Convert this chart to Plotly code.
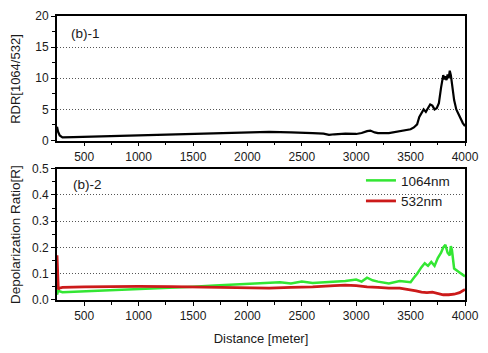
import plotly.graph_objects as go
from plotly.subplots import make_subplots

# ---- data ----
rdr_x = [250, 260, 275, 300, 400, 500, 700, 900, 1100, 1300, 1500, 1700, 1900, 2000, 2200, 2400,
         2500, 2600, 2700, 2750, 2800, 2900, 3000, 3050, 3100, 3130, 3170, 3200, 3300, 3400, 3450,
         3500, 3530, 3560, 3580, 3600, 3620, 3640, 3660, 3680, 3700, 3720, 3740, 3760, 3780, 3800,
         3810, 3820, 3830, 3840, 3850, 3860, 3870, 3880, 3900, 3920, 3940, 3960, 3980, 4000]
rdr_y = [2.2, 1.4, 0.8, 0.5, 0.55, 0.6, 0.7, 0.8, 0.9, 1.0, 1.1, 1.2, 1.3, 1.35, 1.4, 1.3,
         1.3, 1.2, 1.1, 0.9, 1.0, 1.1, 1.05, 1.2, 1.5, 1.6, 1.3, 1.2, 1.2, 1.5, 1.6,
         1.8, 2.1, 2.6, 3.8, 4.5, 5.0, 4.6, 5.2, 5.8, 5.6, 5.0, 5.2, 6.0, 8.5, 10.5,
         9.8, 10.3, 9.7, 10.6, 10.0, 11.2, 10.5, 9.0, 6.5, 5.0, 4.2, 3.4, 2.8, 2.3]

g_x = [250, 260, 300, 500, 700, 1000, 1300, 1500, 1700, 2000, 2200, 2300, 2400, 2500, 2600, 2700,
       2800, 2900, 3000, 3050, 3100, 3150, 3200, 3300, 3400, 3450, 3500, 3530, 3560, 3600, 3630,
       3660, 3690, 3720, 3750, 3780, 3800, 3820, 3840, 3860, 3870, 3880, 3900, 3950, 4000]
g_y = [0.02, 0.035, 0.03, 0.033, 0.037, 0.042, 0.047, 0.05, 0.055, 0.062, 0.065, 0.068, 0.063, 0.07,
       0.065, 0.068, 0.07, 0.072, 0.078, 0.07, 0.085, 0.075, 0.07, 0.063, 0.072, 0.07, 0.068, 0.085,
       0.1, 0.125, 0.14, 0.13, 0.145, 0.13, 0.16, 0.18, 0.2, 0.21, 0.18, 0.17, 0.205, 0.19, 0.12,
       0.105, 0.09]

r_x = [250, 255, 262, 270, 300, 500, 800, 1000, 1300, 1500, 1800, 2000, 2200, 2400, 2600, 2800,
       2900, 3000, 3100, 3200, 3300, 3400, 3500, 3550, 3600, 3650, 3700, 3750, 3800, 3850, 3900,
       3950, 4000]
r_y = [0.17, 0.09, 0.04, 0.045, 0.048, 0.05, 0.052, 0.052, 0.051, 0.05, 0.047, 0.046, 0.045, 0.048,
       0.05, 0.055, 0.057, 0.055, 0.05, 0.048, 0.045, 0.045, 0.04, 0.035, 0.03, 0.028, 0.03, 0.025,
       0.02, 0.02, 0.022, 0.028, 0.04]

x_ticks = [500, 1000, 1500, 2000, 2500, 3000, 3500, 4000]

FONT = "Liberation Sans, Arial, sans-serif"
TXT = "#1a1a1a"

fig = make_subplots(rows=2, cols=1, vertical_spacing=0.0)

fig.add_trace(go.Scatter(x=rdr_x, y=rdr_y, mode="lines", line=dict(color="black", width=2.2),
                         showlegend=False), row=1, col=1)
fig.add_trace(go.Scatter(x=g_x, y=g_y, mode="lines", name="1064nm",
                         line=dict(color="#33e633", width=2.5)), row=2, col=1)
fig.add_trace(go.Scatter(x=r_x, y=r_y, mode="lines", name="532nm",
                         line=dict(color="#cc1a1a", width=2.8)), row=2, col=1)

xcommon = dict(range=[250, 4000], tickvals=x_ticks, ticks="outside", ticklen=4, tickwidth=1.2,
               tickcolor="black", showline=True, linecolor="black", linewidth=1.8, mirror=True,
               showgrid=False, zeroline=False, tickfont=dict(family=FONT, size=12, color=TXT),
               minor=dict(tickvals=[750, 1250, 1750, 2250, 2750, 3250, 3750], ticks="outside",
                          ticklen=3, tickcolor="black", showgrid=False))
fig.update_xaxes(**xcommon)
fig.update_xaxes(domain=[0, 1])

fig.update_layout(
    xaxis=dict(anchor="y"),
    xaxis2=dict(anchor="y2", title=dict(text="Distance [meter]", standoff=12,
                                        font=dict(family=FONT, size=13, color=TXT))),
    yaxis=dict(domain=[0.5616, 1.0], range=[0, 20], tickvals=[0, 5, 10, 15, 20]),
    yaxis2=dict(domain=[0, 0.4623], range=[0, 0.5], tickvals=[0, 0.1, 0.2, 0.3, 0.4, 0.5],
                ticktext=["0.0", "0.1", "0.2", "0.3", "0.4", "0.5"]),
)
ycommon = dict(ticks="outside", ticklen=4, tickwidth=1.2, tickcolor="black", showline=True,
               linecolor="black", linewidth=1.8, mirror=True, showgrid=True, gridcolor="#555",
               griddash="1px,2px", gridwidth=1, zeroline=False,
               tickfont=dict(family=FONT, size=12, color=TXT))
fig.update_yaxes(**ycommon)
fig.update_yaxes(minor=dict(dtick=2.5, tick0=0, ticks="outside", ticklen=3, tickcolor="black",
                            showgrid=False), row=1, col=1)
fig.update_yaxes(minor=dict(dtick=0.05, tick0=0, ticks="outside", ticklen=3, tickcolor="black",
                            showgrid=False), row=2, col=1)

fig.add_annotation(text="RDR[1064/532]", xref="paper", yref="paper", x=-0.102, y=0.78,
                   textangle=-90, showarrow=False, xanchor="center", yanchor="middle",
                   font=dict(family=FONT, size=13, color=TXT))
fig.add_annotation(text="Depolarization Ratio[R]", xref="paper", yref="paper", x=-0.102, y=0.23,
                   textangle=-90, showarrow=False, xanchor="center", yanchor="middle",
                   font=dict(family=FONT, size=13.5, color=TXT))
fig.add_annotation(text="(b)-1", xref="paper", yref="paper", x=0.03, y=0.94, showarrow=False,
                   xanchor="left", yanchor="middle", font=dict(family=FONT, size=13.5, color=TXT))
fig.add_annotation(text="(b)-2", xref="paper", yref="paper", x=0.035, y=0.405, showarrow=False,
                   xanchor="left", yanchor="middle", font=dict(family=FONT, size=13.5, color=TXT))

fig.update_layout(
    width=488, height=353,
    margin=dict(l=57, r=19, t=9, b=52),
    paper_bgcolor="white", plot_bgcolor="white",
    legend=dict(x=0.745, y=0.475, xanchor="left", yanchor="top", bgcolor="rgba(0,0,0,0)",
                font=dict(family=FONT, size=13.5, color=TXT), tracegroupgap=0,
                itemwidth=30),
)

fig.write_html("out.html")
